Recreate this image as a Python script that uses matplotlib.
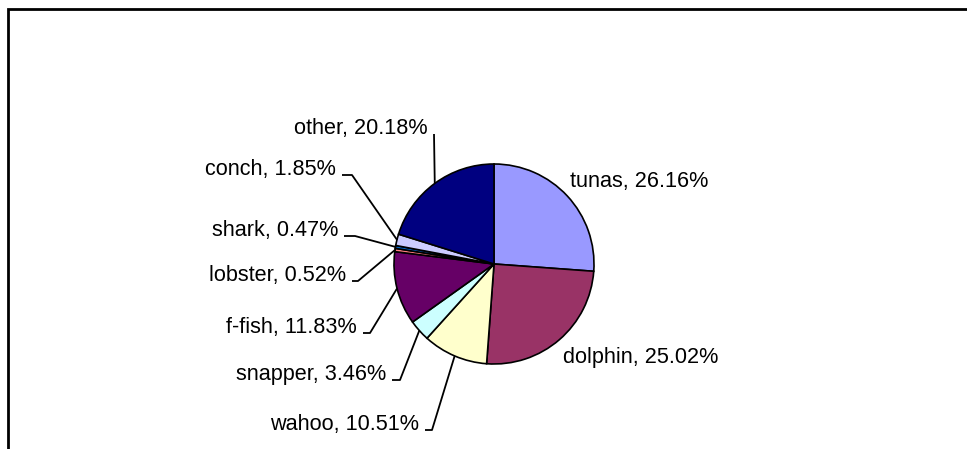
from matplotlib import pyplot as plt
import numpy as np

plt.rcParams['font.family'] = ['Liberation Sans', 'DejaVu Sans']

W, H = 967, 449

species = ["tunas", "dolphin", "wahoo", "snapper", "f-fish", "lobster", "shark", "conch", "other"]
shares = [26.16, 25.02, 10.51, 3.46, 11.83, 0.52, 0.47, 1.85, 20.18]
colors = ["#9999FF", "#993366", "#FFFFCC", "#CCFFFF", "#660066",
          "#FF8080", "#0066CC", "#CCCCFF", "#000080"]

# label layout in pixels: (anchor x, baseline y, side, knee x) ; knee None = no leader
label_pos = {
    "tunas":   (570, 187, "left", None),
    "dolphin": (563, 363, "left", None),
    "wahoo":   (419, 430, "right", 432),
    "snapper": (386, 380, "right", 400),
    "f-fish":  (357, 333, "right", 370),
    "lobster": (346, 281, "right", 358),
    "shark":   (338, 236, "right", 355),
    "conch":   (336, 175, "right", 352),
    "other":   (428, 134, "right", 434),
}

cx, cy, r = 494, H - 264, 100

fig = plt.figure(figsize=(W / 100, H / 100), dpi=100)
ax = fig.add_axes([0, 0, 1, 1])

wedges, _ = ax.pie(shares, colors=colors, startangle=90, counterclock=False,
                   center=(cx, cy), radius=r,
                   wedgeprops=dict(edgecolor="black", linewidth=1.2))

for w, name, val in zip(wedges, species, shares):
    x, yb, side, knee = label_pos[name]
    ax.text(x, H - yb, f"{name}, {val:.2f}%", ha=side, va="baseline", fontsize=15.6)
    if knee is not None:
        mid = np.deg2rad((w.theta1 + w.theta2) / 2)
        ex, ey = cx + r * np.cos(mid), cy + r * np.sin(mid)
        ax.plot([x + 6, knee, ex], [H - yb, H - yb, ey], color="black", lw=1.3,
                solid_capstyle="butt")

# outer frame (top and left edges visible)
ax.plot([8, 8, W], [0, H - 9, H - 9], color="black", lw=2, solid_joinstyle="miter")

ax.set_xlim(0, W)
ax.set_ylim(0, H)
ax.set_aspect("auto")
ax.axis("off")

fig.savefig("out.png", dpi=100)
